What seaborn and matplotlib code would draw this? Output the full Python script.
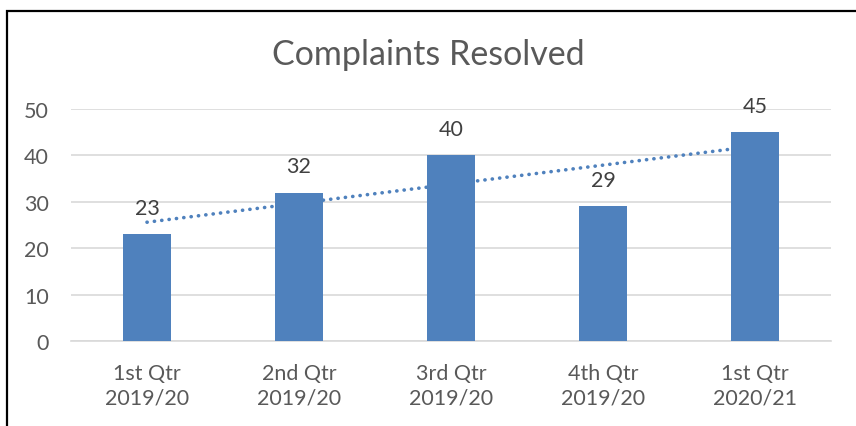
import numpy as np
import pandas as pd
import matplotlib
matplotlib.use("Agg")
import matplotlib.pyplot as plt
from matplotlib.patches import Rectangle
import seaborn as sns

# dati
quarters = ["1st Qtr\n2019/20", "2nd Qtr\n2019/20", "3rd Qtr\n2019/20",
            "4th Qtr\n2019/20", "1st Qtr\n2020/21"]
resolved = [23, 32, 40, 29, 45]
y_ticks = [0, 10, 20, 30, 40, 50]

blue = "#4F81BD"
grey_text = "#595959"

sns.set_style("white")
plt.rcParams["font.family"] = ["Lato", "DejaVu Sans"]

df = pd.DataFrame({"quarter": quarters, "resolved": resolved})

fig = plt.figure(figsize=(8.56, 4.27), dpi=100)
ax = fig.add_axes([71 / 856, 1 - 342 / 427, 760 / 856, 232 / 427])

sns.barplot(data=df, x="quarter", y="resolved", color=blue, width=0.31,
            saturation=1, linewidth=0, ax=ax, zorder=3)

# linea di tendenza lineare (come in Excel)
xs = np.arange(len(resolved))
slope, intercept = np.polyfit(xs, resolved, 1)
ax.plot(xs, slope * xs + intercept, color=blue, linewidth=2.6,
        linestyle=(0, (0.05, 2.0)), dash_capstyle="round", zorder=4)

# etichette dei valori
for i, v in enumerate(resolved):
    ax.annotate(str(v), (i, v), xytext=(0, 19), textcoords="offset points",
                ha="center", va="center", fontsize=15.5, color="#404040")

ax.set_ylim(0, 50)
ax.set_xlim(-0.5, len(quarters) - 0.5)
ax.set_yticks(y_ticks)
ax.yaxis.grid(True, color="#D9D9D9", linewidth=1.2, zorder=0)
ax.set_axisbelow(True)
ax.set_xlabel("")
ax.set_ylabel("")
ax.tick_params(axis="y", length=0, pad=16, labelsize=15.5, labelcolor=grey_text)
ax.tick_params(axis="x", length=0, pad=16, labelsize=15.5, labelcolor=grey_text)
for lbl in ax.get_xticklabels():
    lbl.set_linespacing(1.25)
sns.despine(ax=ax, left=True, top=True, right=True, bottom=False)
ax.spines["bottom"].set_color("#D9D9D9")
ax.spines["bottom"].set_linewidth(1.2)

fig.text(0.5, 1 - 55 / 427, "Complaints Resolved", ha="center", va="center",
         fontsize=24.5, color=grey_text)

# bordo del riquadro (solo sinistra e sopra visibili)
fig.patches.append(Rectangle((7.5 / 856, -0.2), 1.3, 1.2 - 11.5 / 427,
                             transform=fig.transFigure, fill=False,
                             edgecolor="black", linewidth=1.6))

fig.savefig("out.png", dpi=100)
